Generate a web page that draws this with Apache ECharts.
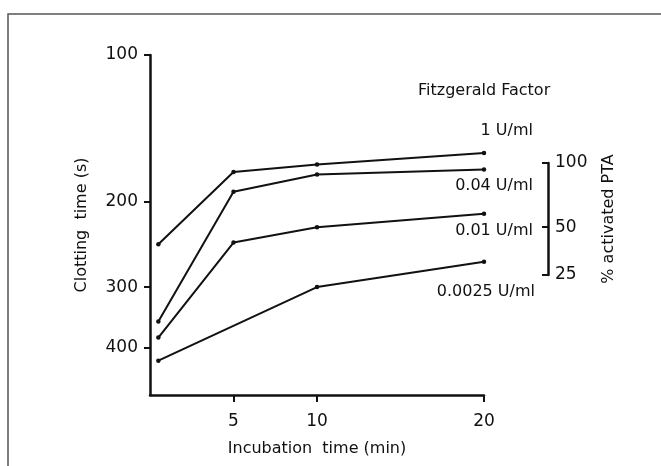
<!DOCTYPE html>
<html>
<head>
<meta charset="utf-8">
<script src="https://cdn.jsdelivr.net/npm/echarts@6/dist/echarts.min.js"></script>
<style>
  html, body { margin: 0; padding: 0; background: #fff; }
  #chart { width: 661px; height: 466px; }
</style>
</head>
<body>
<div id="chart"></div>
<script>
// incubation time (min) and clotting time (s)
const timesFull = [0.5, 5, 10, 20];
const times0025 = [0.5, 10, 20];
const oneU = [245, 174, 168, 159];
const u004 = [353, 191, 176, 172];
const u001 = [381, 243, 226, 212];
const u0025 = [425, 300, 266];
const seriesNames = ['1 U/ml', '0.04 U/ml', '0.01 U/ml', '0.0025 U/ml'];

const xTicks = [5, 10, 20];
const yTicks = [100, 200, 300, 400];
// % activated PTA scale, placed at the matching clotting times
const ptaLabels = [100, 50, 25];
const ptaTimes = [168, 227, 284];

const FONT = 'DejaVu Sans';
const INK = '#111';

function pairs(xs, ys) {
  return xs.map((x, i) => [x, ys[i]]);
}

const chart = echarts.init(document.getElementById('chart'), null, { renderer: 'canvas' });

const lineSeries = (name, data) => ({
  name: name,
  type: 'line',
  data: data,
  symbol: 'circle',
  symbolSize: 4.5,
  itemStyle: { color: INK },
  lineStyle: { color: INK, width: 2 },
  animation: false
});

chart.setOption({
  backgroundColor: '#fff',
  animation: false,
  grid: [
    { left: 150, right: 177, top: 55, bottom: 71 },
    { left: 548, width: 1, top: 163, height: 112 }
  ],
  xAxis: [
    {
      type: 'value',
      min: 0,
      max: 20,
      name: 'Incubation  time (min)',
      nameLocation: 'middle',
      nameGap: 46,
      nameTextStyle: { fontFamily: FONT, fontSize: 16, color: INK },
      axisLine: { lineStyle: { color: INK, width: 2.5 } },
      axisTick: { show: true, length: 7, customValues: xTicks, lineStyle: { color: INK, width: 2 } },
      axisLabel: { customValues: xTicks, fontFamily: FONT, fontSize: 17, color: INK, margin: 18 },
      splitLine: { show: false }
    },
    {
      type: 'value',
      gridIndex: 1,
      show: false
    }
  ],
  yAxis: [
    {
      type: 'log',
      logBase: 10,
      inverse: true,
      min: 100,
      max: 500,
      name: 'Clotting  time (s)',
      nameLocation: 'middle',
      nameRotate: 90,
      nameGap: 60,
      nameTextStyle: { fontFamily: FONT, fontSize: 16, color: INK },
      axisLine: { show: true, lineStyle: { color: INK, width: 2.5 } },
      axisTick: { show: true, length: 6, customValues: yTicks, lineStyle: { color: INK, width: 2 } },
      axisLabel: { customValues: yTicks, fontFamily: FONT, fontSize: 17, color: INK, margin: 12 },
      splitLine: { show: false }
    },
    {
      type: 'log',
      gridIndex: 1,
      inverse: true,
      min: ptaTimes[0],
      max: ptaTimes[ptaTimes.length - 1],
      position: 'right',
      name: '% activated PTA',
      nameLocation: 'middle',
      nameRotate: 90,
      nameGap: 52,
      nameTextStyle: { fontFamily: FONT, fontSize: 16, color: INK },
      axisLine: { show: true, lineStyle: { color: INK, width: 2.5 } },
      axisTick: { show: true, inside: true, length: 6, customValues: ptaTimes, lineStyle: { color: INK, width: 2 } },
      axisLabel: {
        customValues: ptaTimes,
        fontFamily: FONT,
        fontSize: 17,
        color: INK,
        margin: 6,
        formatter: function (v) {
          let best = 0;
          ptaTimes.forEach((t, i) => {
            if (Math.abs(t - v) < Math.abs(ptaTimes[best] - v)) best = i;
          });
          return String(ptaLabels[best]);
        }
      },
      splitLine: { show: false }
    }
  ],
  graphic: [
    {
      type: 'rect',
      shape: { x: 8, y: 14, width: 700, height: 500 },
      style: { fill: 'none', stroke: '#555', lineWidth: 1.5 },
      silent: true
    },
    {
      type: 'text', left: 418, top: 83,
      style: { text: 'Fitzgerald Factor', font: '16px "DejaVu Sans"', fill: INK }
    },
    {
      type: 'text', right: 661 - 533, top: 123,
      style: { text: seriesNames[0], font: '16px "DejaVu Sans"', fill: INK, align: 'right' }
    },
    {
      type: 'text', right: 661 - 533, top: 178,
      style: { text: seriesNames[1], font: '16px "DejaVu Sans"', fill: INK, align: 'right' }
    },
    {
      type: 'text', right: 661 - 533, top: 223,
      style: { text: seriesNames[2], font: '16px "DejaVu Sans"', fill: INK, align: 'right' }
    },
    {
      type: 'text', right: 661 - 535, top: 284,
      style: { text: seriesNames[3], font: '16px "DejaVu Sans"', fill: INK, align: 'right' }
    }
  ],
  series: [
    lineSeries(seriesNames[0], pairs(timesFull, oneU)),
    lineSeries(seriesNames[1], pairs(timesFull, u004)),
    lineSeries(seriesNames[2], pairs(timesFull, u001)),
    lineSeries(seriesNames[3], pairs(times0025, u0025))
  ]
});
</script>
</body>
</html>
